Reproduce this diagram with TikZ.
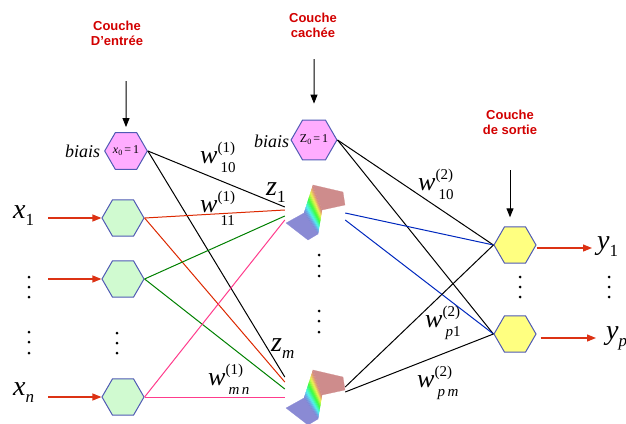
\documentclass[tikz,border=0pt]{standalone}
\usepackage{fontspec}
\setmainfont{Liberation Serif}
\newfontfamily\headfont{Liberation Sans}
\usetikzlibrary{shapes.geometric,arrows.meta}

\definecolor{pinkfill}{RGB}{255,172,255}
\definecolor{greenfill}{RGB}{208,250,208}
\definecolor{yellowfill}{RGB}{255,255,128}
\definecolor{hexborder}{RGB}{80,90,180}
\definecolor{linered}{RGB}{220,40,0}
\definecolor{arrowred}{RGB}{220,50,20}
\definecolor{linegreen}{RGB}{0,128,0}
\definecolor{linepink}{RGB}{255,60,140}
\definecolor{lineblue}{RGB}{0,40,190}
\definecolor{titlered}{RGB}{210,0,0}
\definecolor{sheetlow}{RGB}{138,138,212}
\definecolor{sheethigh}{RGB}{206,140,140}

% weight label: w with superscript and subscript
\newcommand{\wlab}[3][9]{{\fontsize{26}{26}\selectfont\itshape w}\rlap{\raisebox{11pt}{\fontsize{15}{15}\selectfont(#2)}}\kern3pt\raisebox{-#1pt}{\fontsize{15}{15}\selectfont #3}}
% variable label: letter with subscript
\newcommand{\vlab}[2]{{\fontsize{28}{28}\selectfont\itshape #1}\raisebox{-7pt}{\fontsize{17}{17}\selectfont #2}}

% sigmoid activation surface; #1,#2 = left corner of the lower sheet
\newcommand{\sigsurf}[2]{%
\begin{scope}[shift={(#1,#2)}]
  % lower sheet
  \filldraw[fill=sheetlow, draw=sheetlow, line width=0.2pt]
    (0,0) -- (18,-10) -- (32,11) -- (22,17) -- cycle;
  % rising wall, coloured by height
  \foreach \i in {0,...,19}{
    \pgfmathsetmacro\ta{\i/20}
    \pgfmathsetmacro\tb{(\i+1)/20}
    \pgfmathsetmacro\tm{(\ta+\tb)/2}
    \pgfmathsetmacro\hu{0.67*(1-\tm)}
    \pgfmathsetmacro\sat{0.36+0.42*sin(180*\tm)}
    \pgfmathsetmacro\bri{0.82+0.17*sin(180*\tm)}
    \convertcolorspec{hsb}{\hu,\sat,\bri}{rgb}\sigrgb
    \definecolor{sigc}{rgb}{\sigrgb}
    \filldraw[fill=sigc, draw=sigc, line width=0.2pt]
      (18+9*\ta, -10-28*\ta) -- (18+9*\tb, -10-28*\tb)
      -- (32+4*\tb, 11-24*\tb) -- (32+4*\ta, 11-24*\ta) -- cycle;
  }
  % upper sheet
  \filldraw[fill=sheethigh, draw=sheethigh, line width=0.2pt]
    (27,-38) -- (57,-31) -- (59,-18) -- (36,-13) -- cycle;
\end{scope}}

\begin{document}
\begin{tikzpicture}[x=1pt,y=-1pt,
  hexa/.style={regular polygon, regular polygon sides=6, minimum size=42pt,
    inner sep=0pt, draw=hexborder, line width=1pt},
  neuron/.style={minimum width=60pt, minimum height=56pt, inner sep=0pt},
  conn/.style={line width=1pt},
  redarrow/.style={draw=arrowred, line width=1.2pt, -{Triangle[length=9pt,width=7pt]}},
  blackarrow/.style={line width=1pt, -{Triangle[length=9pt,width=7pt]}},
  title/.style={align=center, text=titlered, inner sep=0pt,
    font=\headfont\bfseries\fontsize{13}{15}\selectfont},
  lab/.style={inner sep=0pt, anchor=base west},
  biasfont/.style={font=\fontsize{18}{18}\selectfont\itshape}]
\useasboundingbox (0,0) rectangle (626,423);

% layer titles
\node[title] (tin) at (117,33) {Couche\\D’entrée};
\node[title] (thid) at (313,25) {Couche\\cachée};
\node[title] (tout) at (510,122) {Couche\\de sortie};

% hidden neurons (sigmoid surfaces)
\sigsurf{286}{223}
\node[neuron] (h1) at (315,212) {};
\sigsurf{286}{408}
\node[neuron] (hm) at (315,397) {};

% input layer
\node[hexa, fill=pinkfill] (ib) at (126,151)
  {\fontsize{12}{12}\selectfont{\itshape x}\raisebox{-2pt}{\fontsize{8}{8}\selectfont 0}\,=\,1};
\node[hexa, fill=greenfill] (i1) at (123,218) {};
\node[hexa, fill=greenfill] (i2) at (123,279) {};
\node[hexa, fill=greenfill] (in) at (123,397) {};

% hidden bias
\node[hexa, fill=pinkfill] (hb) at (314,140)
  {\fontsize{12}{12}\selectfont Z\raisebox{-2pt}{\fontsize{8}{8}\selectfont 0}\,=\,1};

% output layer
\node[hexa, fill=yellowfill] (o1) at (515,245) {};
\node[hexa, fill=yellowfill] (op) at (515,334) {};

% layer arrows
\coordinate (ain) at (126,81);
\coordinate (ahid) at (314,59);
\coordinate (aout) at (510,170);
\draw[blackarrow, shorten >=5pt] (ain) -- (ib.north);
\draw[blackarrow, shorten >=16pt] (ahid) -- (hb.north);
\draw[blackarrow, shorten >=9pt] (aout) -- (aout |- o1.north);

% inputs
\coordinate (xa1) at (48,218);
\coordinate (xa2) at (48,279);
\coordinate (xan) at (48,397);
\draw[redarrow] (xa1) -- (i1.west);
\draw[redarrow] (xa2) -- (i2.west);
\draw[redarrow] (xan) -- (in.west);

% outputs
\coordinate (ya1) at (592,248);
\coordinate (yap) at (596,338);
\draw[redarrow] ([yshift=-3pt]o1.east) -- (ya1);
\draw[redarrow] ([shift={(4pt,-4pt)}]op.east) -- (yap);

% input -> hidden connections
\draw[conn] (ib.east) -- ([yshift=5pt]h1.west);
\draw[conn] (ib.east) -- ([yshift=20pt]hm.west);
\draw[conn, linered] (i1.east) -- ([yshift=2pt]h1.west);
\draw[conn, linered] (i1.east) -- ([yshift=15pt]hm.west);
\draw[conn, linegreen] (i2.east) -- ([yshift=-4pt]h1.west);
\draw[conn, linegreen] (i2.east) -- ([yshift=8pt]hm.west);
\draw[conn, linepink] (in.east) -- ([yshift=-8pt]h1.west);
\draw[conn, linepink] (in.east) -- (hm.west);

% hidden -> output connections
\draw[conn] (hb.east) -- (o1.west);
\draw[conn] (hb.east) -- (op.west);
\draw[conn, lineblue] ([yshift=-1pt]h1.east) -- (o1.west);
\draw[conn, lineblue] ([yshift=-8pt]h1.east) -- (op.west);
\draw[conn] ([yshift=10pt]hm.east) -- (o1.west);
\draw[conn] ([yshift=5pt]hm.east) -- (op.west);

% bias labels
\node[lab, biasfont] (lbi) at (65,157) {biais};
\node[lab, biasfont] (lbh) at (254,147) {biais};

% variable labels
\node[lab] (lx1) at (13,218) {\vlab{x}{1}};
\node[lab] (lxn) at (13,395) {\vlab{x}{\itshape n}};
\node[lab] (ly1) at (597,249) {\vlab{y}{1}};
\node[lab] (lyp) at (606,339) {\vlab{y}{\itshape p}};
\node[lab] (lz1) at (266,195) {\vlab{z}{1}};
\node[lab] (lzm) at (271,351) {\vlab{z}{\itshape m}};

% weight labels
\node[lab] (w10a) at (200,163) {\wlab{1}{10}};
\node[lab] (w11a) at (200,212) {\wlab[13]{1}{11}};
\node[lab] (wmna) at (208,385) {\wlab{1}{\itshape m\,n}};
\node[lab] (w10b) at (418,190) {\wlab{2}{10}};
\node[lab] (wp1b) at (425,327) {\wlab{2}{{\itshape p}1}};
\node[lab] (wpmb) at (417,387) {\wlab{2}{\itshape p\,m}};

% ellipsis dots
\foreach \p in {(29,277),(29,287),(29,297),(29,332),(29,342),(29,353),
                (117,333),(117,343),(117,353),
                (319,255),(319,266),(319,276),(319,311),(319,321),(319,332),
                (520,277),(520,287),(520,297),
                (609,277),(609,287),(609,297)}
  \fill \p circle (1.5pt);
\end{tikzpicture}
\end{document}
